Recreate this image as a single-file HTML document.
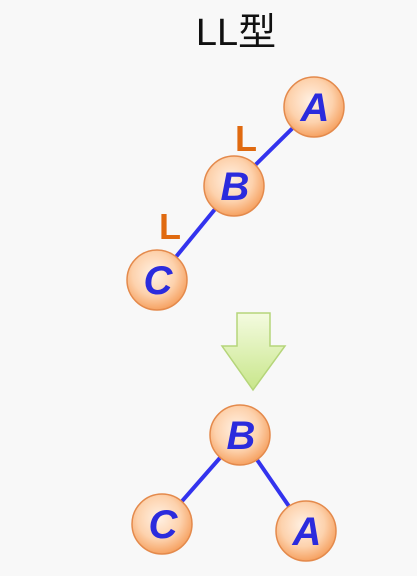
<!DOCTYPE html>
<html><head><meta charset="utf-8"><style>
html,body{margin:0;padding:0;background:#f8f8f8;}
svg{display:block;}
</style></head><body>
<svg width="417" height="576" viewBox="0 0 417 576">
<defs>
<radialGradient id="g" cx="45%" cy="40%" r="60%">
<stop offset="0" stop-color="#fff1e4"/><stop offset="0.6" stop-color="#fdd2ad"/><stop offset="1" stop-color="#f6a262"/>
</radialGradient>
<linearGradient id="ag" x1="0" y1="0" x2="0" y2="1">
<stop offset="0" stop-color="#f4fbe0"/><stop offset="1" stop-color="#c8e68a"/>
</linearGradient>
</defs>
<rect width="417" height="576" fill="#f8f8f8"/>
<text x="236" y="45" text-anchor="middle" font-family="'Liberation Sans','Noto Sans CJK SC',sans-serif" font-size="38" fill="#111">LL型</text>
<g stroke="#3333ee" stroke-width="4">
<line x1="314" y1="107" x2="234" y2="186"/><line x1="234" y1="186" x2="157" y2="280"/>
</g>
<g font-family="'Liberation Sans',sans-serif" font-weight="bold" font-size="36" fill="#e06a10">
<text x="235" y="151">L</text>
<text x="159" y="239">L</text>
</g>
<g stroke="#3333ee" stroke-width="4">
<line x1="240" y1="435" x2="162" y2="524"/><line x1="240" y1="435" x2="306" y2="531"/>
</g>
<path d="M237 313 H270 V346 H285 L253 390 L222 346 H237 Z" fill="url(#ag)" stroke="#b5d57a" stroke-width="1.5"/>
<g font-family="'Liberation Sans',sans-serif" font-weight="bold" font-style="italic" font-size="40" fill="#2b2bdd" text-anchor="middle">
<g><circle cx="314" cy="107" r="30" fill="url(#g)" stroke="#e48a4c" stroke-width="1.5"/><text x="315" y="121">A</text></g>
<g><circle cx="234" cy="186" r="30" fill="url(#g)" stroke="#e48a4c" stroke-width="1.5"/><text x="235" y="200">B</text></g>
<g><circle cx="157" cy="280" r="30" fill="url(#g)" stroke="#e48a4c" stroke-width="1.5"/><text x="158" y="294">C</text></g>
<g><circle cx="240" cy="435" r="30" fill="url(#g)" stroke="#e48a4c" stroke-width="1.5"/><text x="241" y="449">B</text></g>
<g><circle cx="162" cy="524" r="30" fill="url(#g)" stroke="#e48a4c" stroke-width="1.5"/><text x="163" y="538">C</text></g>
<g><circle cx="306" cy="531" r="30" fill="url(#g)" stroke="#e48a4c" stroke-width="1.5"/><text x="307" y="545">A</text></g>
</g>
</svg>
</body></html>
